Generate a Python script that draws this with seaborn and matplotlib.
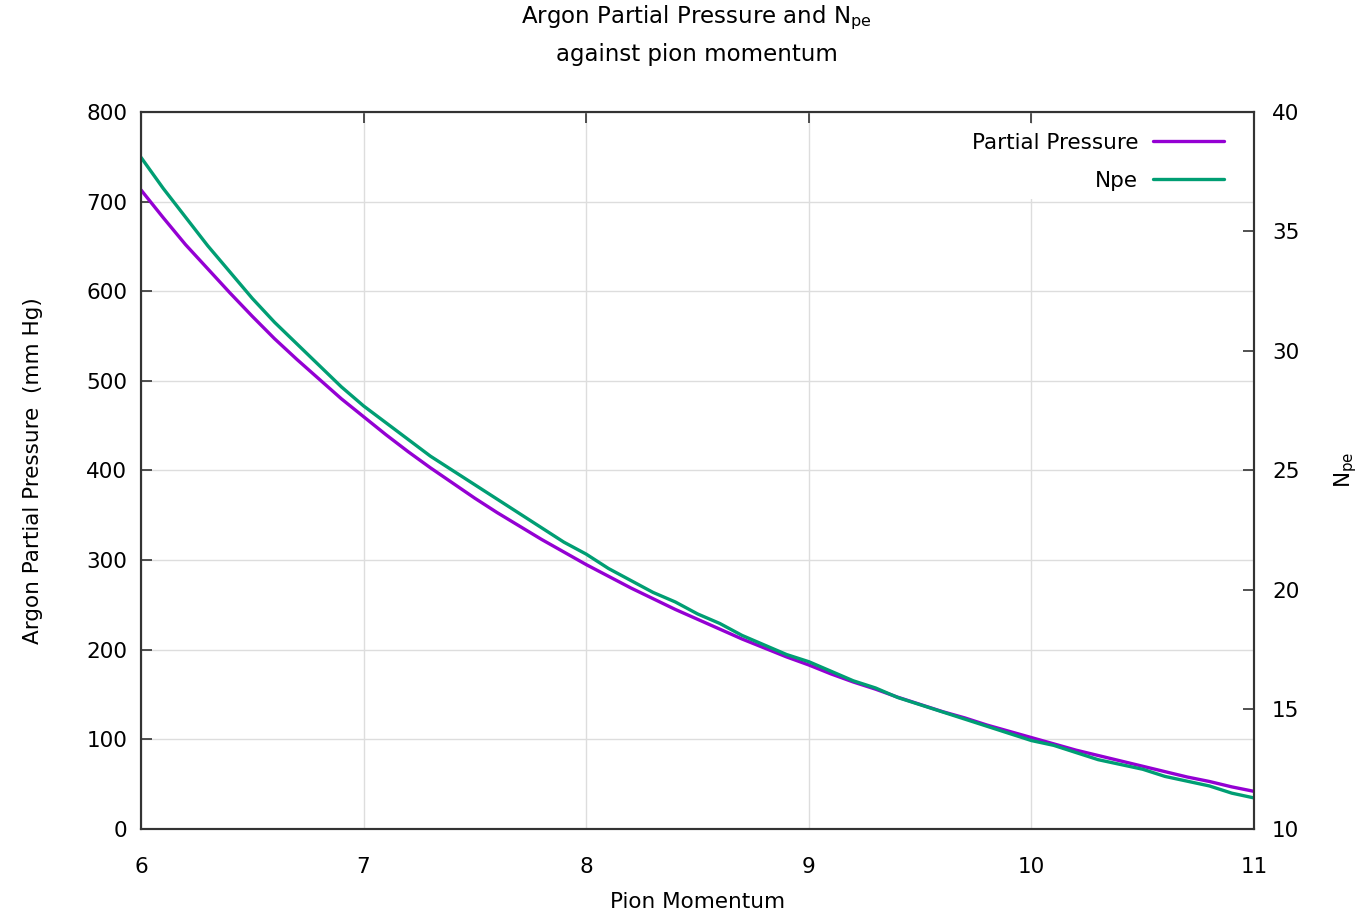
import matplotlib
matplotlib.use("Agg")
import matplotlib.pyplot as plt
import seaborn as sns
import pandas as pd

# pion momentum (GeV/c), 0.1 steps from 6 to 11
momentum = [6.0, 6.1, 6.2, 6.3, 6.4, 6.5, 6.6, 6.7, 6.8, 6.9,
            7.0, 7.1, 7.2, 7.3, 7.4, 7.5, 7.6, 7.7, 7.8, 7.9,
            8.0, 8.1, 8.2, 8.3, 8.4, 8.5, 8.6, 8.7, 8.8, 8.9,
            9.0, 9.1, 9.2, 9.3, 9.4, 9.5, 9.6, 9.7, 9.8, 9.9,
            10.0, 10.1, 10.2, 10.3, 10.4, 10.5, 10.6, 10.7, 10.8, 10.9,
            11.0]

# argon partial pressure (mm Hg)
pressure = [713, 682, 652, 625, 598, 572, 547, 524, 502, 480,
            460, 440, 421, 403, 386, 369, 353, 338, 323, 309,
            295, 282, 269, 257, 245, 234, 223, 212, 202, 192,
            183, 173, 164, 156, 147, 139, 131, 124, 116, 109,
            102, 95, 88, 82, 76, 70, 64, 58, 53, 47,
            42]

# number of photoelectrons
npe = [38.1, 36.8, 35.6, 34.4, 33.3, 32.2, 31.2, 30.3, 29.4, 28.5,
       27.7, 27.0, 26.3, 25.6, 25.0, 24.4, 23.8, 23.2, 22.6, 22.0,
       21.5, 20.9, 20.4, 19.9, 19.5, 19.0, 18.6, 18.1, 17.7, 17.3,
       17.0, 16.6, 16.2, 15.9, 15.5, 15.2, 14.9, 14.6, 14.3, 14.0,
       13.7, 13.5, 13.2, 12.9, 12.7, 12.5, 12.2, 12.0, 11.8, 11.5,
       11.3]

df = pd.DataFrame({"p": momentum, "pressure": pressure, "npe": npe})

sns.set_style("white")
plt.rcParams["font.family"] = ["DejaVu Sans"]
plt.rcParams["font.size"] = 15.5
plt.rcParams["text.color"] = "black"
plt.rcParams["axes.labelcolor"] = "black"
plt.rcParams["xtick.color"] = "black"
plt.rcParams["ytick.color"] = "black"

purple = "#9400d3"
green = "#009e73"
edge = "#333333"
fs = 15.5

fig = plt.figure(figsize=(13.61, 9.14), dpi=100)
ax = fig.add_axes([0.1036, 0.0930, 0.8178, 0.7845])
ax2 = ax.twinx()

sns.lineplot(data=df, x="p", y="pressure", ax=ax, color=purple, linewidth=2.4,
             label="Partial Pressure", legend=False)
sns.lineplot(data=df, x="p", y="npe", ax=ax2, color=green, linewidth=2.4,
             label="Npe", legend=False)

ax.set_xlim(6, 11)
ax.set_ylim(0, 800)
ax2.set_ylim(10, 40)
ax.set_xticks([6, 7, 8, 9, 10, 11])
ax.set_yticks(range(0, 801, 100))
ax2.set_yticks(range(10, 41, 5))

ax.grid(True, color="#dddddd", linewidth=1)
ax.set_axisbelow(True)

for a in (ax, ax2):
    for s in a.spines.values():
        s.set_color(edge)
        s.set_linewidth(1.5)

ax.tick_params(axis="x", direction="in", length=8, width=1.2, color=edge,
               top=True, pad=20, labelsize=fs, labelcolor="black")
ax.tick_params(axis="y", direction="in", length=8, width=1.2, color=edge,
               right=False, pad=10, labelsize=fs, labelcolor="black")
ax2.tick_params(axis="y", direction="in", length=8, width=1.2, color=edge,
                pad=13, labelsize=fs, labelcolor="black")

ax.set_xlabel("Pion Momentum", fontsize=fs, labelpad=11)
ax.set_ylabel("Argon Partial Pressure  (mm Hg)", fontsize=fs, labelpad=31)
ax2.set_ylabel("")
fig.text(1346 / 1361, 1 - 470 / 914, r"N$_{\mathrm{pe}}$", rotation=90,
         ha="center", va="center", fontsize=fs)

fig.text(0.512, 1 - 18 / 914, r"Argon Partial Pressure and N$_{\mathrm{pe}}$",
         ha="center", va="center", fontsize=16.5)
fig.text(0.512, 1 - 54 / 914, "against pion momentum",
         ha="center", va="center", fontsize=16.5)

h1, l1 = ax.get_legend_handles_labels()
h2, l2 = ax2.get_legend_handles_labels()
leg = ax2.legend(h1 + h2, l1 + l2, loc="upper right",
                 bbox_to_anchor=(0.9811, 0.9833), borderaxespad=0,
                 markerfirst=False, frameon=True, facecolor="white",
                 edgecolor="none", framealpha=1, fontsize=fs,
                 handlelength=3.3, handletextpad=0.7, labelspacing=0.84,
                 borderpad=0.4, fancybox=False)

fig.savefig("out.png", dpi=100)
